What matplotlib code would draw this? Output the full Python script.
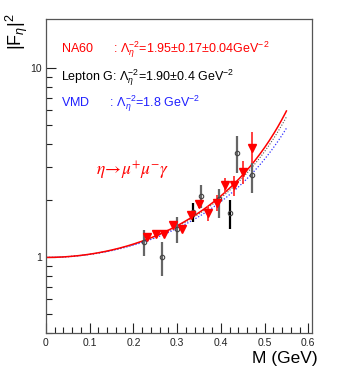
import numpy as np
import matplotlib
matplotlib.use("Agg")
import matplotlib.pyplot as plt
from matplotlib.ticker import LogLocator, MultipleLocator, NullFormatter, FixedLocator, FixedFormatter

plt.rcParams['font.family'] = ['Liberation Sans', 'DejaVu Sans']
plt.rcParams['mathtext.fontset'] = 'custom'
plt.rcParams['mathtext.rm'] = 'Liberation Sans'
plt.rcParams['mathtext.it'] = 'Liberation Sans:italic'

# NA60 data points (M in GeV, |F|^2 with lower/upper errors)
na60_m = [0.230, 0.251, 0.269, 0.290, 0.311, 0.331, 0.351, 0.371, 0.391, 0.410, 0.431, 0.451, 0.471]
na60_f2 = [1.28, 1.33, 1.33, 1.48, 1.42, 1.67, 1.92, 1.71, 1.95, 2.41, 2.41, 2.83, 3.78]
na60_lo = [0.05, 0.05, 0.05, 0.06, 0.06, 0.08, 0.10, 0.16, 0.20, 0.22, 0.30, 0.40, 0.63]
na60_hi = [0.05, 0.05, 0.05, 0.06, 0.06, 0.08, 0.10, 0.16, 0.19, 0.22, 0.28, 0.42, 0.85]

# Lepton-G data points
lg_m = [0.224, 0.265, 0.300, 0.336, 0.355, 0.396, 0.420, 0.436, 0.471]
lg_f2 = [1.21, 1.01, 1.42, 1.74, 2.11, 2.03, 1.72, 3.57, 2.72]
lg_lo = [0.19, 0.21, 0.23, 0.21, 0.29, 0.42, 0.31, 0.78, 0.52]
lg_hi = [0.18, 0.19, 0.21, 0.20, 0.31, 0.27, 0.28, 0.82, 0.43]
lg_black = [False, False, False, True, False, False, True, False, False]

# pole-fit parameters Lambda^-2 (GeV^-2) quoted on the chart
lam_na60 = 1.95
lam_lg = 1.90
lam_vmd = 1.8
m_max = 0.55

fig = plt.figure(figsize=(3.43, 3.74), dpi=100)
ax = fig.add_axes([0.134, 0.1104, 0.7756, 0.8386])

m = np.linspace(0, m_max, 200)
ax.plot(m, 1 / (1 - lam_vmd * m**2)**2, color='#3030ff', ls=(0, (1, 1.5)), lw=0.9)
ax.plot(m, 1 / (1 - lam_lg * m**2)**2, color='#555555', ls=(0, (1, 1.5)), lw=0.8)
ax.plot(m, 1 / (1 - lam_na60 * m**2)**2, color='#ff0000', lw=1.1)

for i in range(len(lg_m)):
    col = 'black' if lg_black[i] else '#666666'
    ax.errorbar(lg_m[i], lg_f2[i], yerr=[[lg_lo[i]], [lg_hi[i]]], fmt='o', ms=3.2,
                mfc='none', mec='#444444', mew=0.8, ecolor=col, elinewidth=1.6, capsize=0)

ax.errorbar(na60_m, na60_f2, yerr=[na60_lo, na60_hi], fmt='v', ms=5.6, color='#ff0000',
            ecolor='#ff3030', elinewidth=1.3, capsize=0)

ax.set_yscale('log')
ax.set_xlim(0, 0.6085)
ax.set_ylim(0.40, 18.2)

ax.xaxis.set_minor_locator(MultipleLocator(0.02))
ax.set_xticks([0, 0.1, 0.2, 0.3, 0.4, 0.5, 0.6])
ax.set_xticklabels(['0', '0.1', '0.2', '0.3', '0.4', '0.5', '0.6'])
ax.yaxis.set_major_locator(FixedLocator([1, 10]))
ax.yaxis.set_major_formatter(FixedFormatter(['1', '10']))
ax.yaxis.set_minor_locator(LogLocator(base=10, subs=np.arange(2, 10)))
ax.yaxis.set_minor_formatter(NullFormatter())

ax.tick_params(which='both', direction='in', top=False, right=False, labelsize=7.5,
               colors='#222222', width=0.8)
ax.tick_params(which='major', length=7)
ax.tick_params(which='minor', length=4)
ax.tick_params(axis='x', pad=4)
ax.tick_params(axis='y', pad=3)
for s in ax.spines.values():
    s.set_color('#555555')
    s.set_linewidth(0.9)

ax.text(0.057, 0.901, 'NA60      : $\\Lambda_{\\eta}^{-2}$=1.95$\\pm$0.17$\\pm$0.04GeV$^{-2}$',
        transform=ax.transAxes, color='#ff0000', fontsize=9, va='center')
ax.text(0.057, 0.812, 'Lepton G: $\\Lambda_{\\eta}^{-2}$=1.90$\\pm$0.4 GeV$^{-2}$',
        transform=ax.transAxes, color='black', fontsize=9, va='center')
ax.text(0.057, 0.730, 'VMD      : $\\Lambda_{\\eta}^{-2}$=1.8 GeV$^{-2}$',
        transform=ax.transAxes, color='#2020ff', fontsize=9, va='center')
ax.text(0.188, 0.518, '$\\eta\\!\\rightarrow\\!\\mu^{+}\\mu^{-}\\gamma$', transform=ax.transAxes,
        color='#ff0000', fontsize=12.5, va='center', math_fontfamily='stix')

fig.text(318 / 343, 1 - 358 / 374, 'M (GeV)', ha='right', va='center', fontsize=12.5)
fig.text(17 / 343, 1 - 50 / 374, '|F$_{\\eta}$|$^{2}$', rotation=90, ha='center', va='bottom',
         fontsize=13)

fig.savefig('out.png', dpi=100)
